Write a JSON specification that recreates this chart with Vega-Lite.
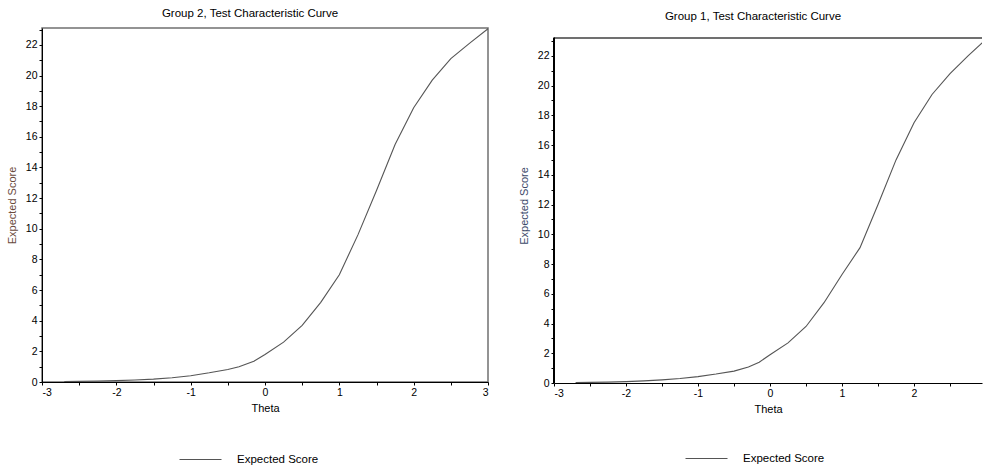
{
  "$schema": "https://vega.github.io/schema/vega-lite/v6.json",
  "padding": {"left": 5, "top": 6, "right": 0, "bottom": 0},
  "background": "white",
  "spacing": 28,
  "config": {
    "font": "Liberation Sans",
    "view": {"stroke": "#707070", "strokeWidth": 1.5},
    "axis": {"grid": false, "domainColor": "black", "tickColor": "black", "labelColor": "black", "labelFontSize": 10.5, "titleFontSize": 11, "titleFontWeight": "normal", "tickSize": 3, "labelPadding": 2},
    "title": {"fontSize": 11.5, "fontWeight": "normal", "color": "black"}
  },
  "resolve": {"scale": {"color": "independent"}, "legend": {"color": "independent"}},
  "hconcat": [
    {
      "width": 446,
      "height": 354,
      "title": {"text": "Group 2, Test Characteristic Curve", "offset": 9, "dx": -15},
      "data": {"values": [
        {"theta": -2.7, "score": 0.03}, {"theta": -2.5, "score": 0.04}, {"theta": -2.25, "score": 0.06}, {"theta": -2.0, "score": 0.09},
        {"theta": -1.75, "score": 0.13}, {"theta": -1.5, "score": 0.19}, {"theta": -1.25, "score": 0.28}, {"theta": -1.0, "score": 0.41},
        {"theta": -0.75, "score": 0.6}, {"theta": -0.5, "score": 0.82}, {"theta": -0.35, "score": 1.0}, {"theta": -0.15, "score": 1.35},
        {"theta": 0.0, "score": 1.8}, {"theta": 0.25, "score": 2.6}, {"theta": 0.5, "score": 3.7}, {"theta": 0.75, "score": 5.2},
        {"theta": 1.0, "score": 7.0}, {"theta": 1.25, "score": 9.6}, {"theta": 1.5, "score": 12.5}, {"theta": 1.75, "score": 15.5},
        {"theta": 2.0, "score": 17.9}, {"theta": 2.25, "score": 19.7}, {"theta": 2.5, "score": 21.1}, {"theta": 2.75, "score": 22.1},
        {"theta": 3.0, "score": 23.05}
      ]},
      "mark": {"type": "line", "strokeWidth": 1.1, "clip": true},
      "encoding": {
        "x": {"field": "theta", "type": "quantitative", "scale": {"domain": [-3, 3], "nice": false, "zero": false},
          "axis": {"title": "Theta", "titlePadding": 5, "values": [-3, -2.5, -2, -1.5, -1, -0.5, 0, 0.5, 1, 1.5, 2, 2.5, 3], "labelExpr": "datum.value % 1 === 0 ? toString(datum.value) : ''"}},
        "y": {"field": "score", "type": "quantitative", "scale": {"domain": [0, 23.1], "nice": false},
          "axis": {"title": "Expected Score", "titleColor": "#6a4a3c", "titlePadding": 8, "values": [0,1,2,3,4,5,6,7,8,9,10,11,12,13,14,15,16,17,18,19,20,21,22,23], "labelExpr": "datum.value % 2 === 0 ? toString(datum.value) : ''"}},
        "color": {"datum": "Expected Score", "scale": {"range": ["#555555"]},
          "legend": {"title": null, "orient": "none", "legendX": 151, "legendY": 424, "symbolType": "M-3,0H3", "symbolSize": 196, "symbolStrokeWidth": 1, "labelFontSize": 11.5, "labelOffset": 29, "padding": 0, "labelColor": "black"}}
      }
    },
    {
      "width": 428,
      "height": 355,
      "view": {"stroke": null},
      "title": {"text": "Group 1, Test Characteristic Curve", "offset": 6, "dx": -15},
      "data": {"values": [
        {"theta": -2.7, "score": 0.03}, {"theta": -2.5, "score": 0.04}, {"theta": -2.25, "score": 0.06}, {"theta": -2.0, "score": 0.09},
        {"theta": -1.75, "score": 0.14}, {"theta": -1.5, "score": 0.21}, {"theta": -1.25, "score": 0.3}, {"theta": -1.0, "score": 0.43},
        {"theta": -0.75, "score": 0.6}, {"theta": -0.5, "score": 0.8}, {"theta": -0.3, "score": 1.08}, {"theta": -0.15, "score": 1.4},
        {"theta": 0.0, "score": 1.9}, {"theta": 0.25, "score": 2.7}, {"theta": 0.5, "score": 3.8}, {"theta": 0.75, "score": 5.4},
        {"theta": 1.0, "score": 7.3}, {"theta": 1.25, "score": 9.1}, {"theta": 1.5, "score": 12.0}, {"theta": 1.75, "score": 15.0},
        {"theta": 2.0, "score": 17.5}, {"theta": 2.25, "score": 19.4}, {"theta": 2.5, "score": 20.8}, {"theta": 2.75, "score": 22.0},
        {"theta": 3.0, "score": 23.1}
      ]},
      "layer": [
        {
          "mark": {"type": "line", "strokeWidth": 1.1, "clip": true},
          "encoding": {
            "x": {"field": "theta", "type": "quantitative", "scale": {"domain": [-3, 2.944], "nice": false, "zero": false},
              "axis": {"title": "Theta", "titlePadding": 5, "values": [-3, -2.5, -2, -1.5, -1, -0.5, 0, 0.5, 1, 1.5, 2, 2.5], "labelExpr": "datum.value % 1 === 0 ? toString(datum.value) : ''"}},
            "y": {"field": "score", "type": "quantitative", "scale": {"domain": [0, 23.87], "nice": false},
              "axis": {"title": "Expected Score", "titleColor": "#3c4a6a", "titlePadding": 8, "domain": false, "values": [0,1,2,3,4,5,6,7,8,9,10,11,12,13,14,15,16,17,18,19,20,21,22,23], "labelExpr": "datum.value % 2 === 0 ? toString(datum.value) : ''"}},
            "color": {"datum": "Expected Score", "scale": {"range": ["#555555"]},
              "legend": {"title": null, "orient": "none", "legendX": 145, "legendY": 423, "symbolType": "M-3,0H3", "symbolSize": 196, "symbolStrokeWidth": 1, "labelFontSize": 11.5, "labelOffset": 29, "padding": 0, "labelColor": "black"}}
          }
        },
        {
          "mark": {"type": "rule", "color": "#707070", "strokeWidth": 1.5},
          "encoding": {
            "y": {"datum": 23.2, "type": "quantitative", "scale": {"domain": [0, 23.87], "nice": false},
              "axis": {"title": "Expected Score", "titleColor": "#3c4a6a", "titlePadding": 8, "domain": false, "values": [0,1,2,3,4,5,6,7,8,9,10,11,12,13,14,15,16,17,18,19,20,21,22,23], "labelExpr": "datum.value % 2 === 0 ? toString(datum.value) : ''"}},
            "x": {"datum": -3, "type": "quantitative", "scale": {"domain": [-3, 2.944], "nice": false, "zero": false},
              "axis": {"title": "Theta", "titlePadding": 5, "values": [-3, -2.5, -2, -1.5, -1, -0.5, 0, 0.5, 1, 1.5, 2, 2.5], "labelExpr": "datum.value % 1 === 0 ? toString(datum.value) : ''"}},
            "x2": {"datum": 2.944}
          }
        },
        {
          "mark": {"type": "rule", "color": "black", "strokeWidth": 1},
          "encoding": {
            "x": {"datum": -3, "type": "quantitative", "scale": {"domain": [-3, 2.944], "nice": false, "zero": false},
              "axis": {"title": "Theta", "titlePadding": 5, "values": [-3, -2.5, -2, -1.5, -1, -0.5, 0, 0.5, 1, 1.5, 2, 2.5], "labelExpr": "datum.value % 1 === 0 ? toString(datum.value) : ''"}},
            "y": {"datum": 0, "type": "quantitative", "scale": {"domain": [0, 23.87], "nice": false},
              "axis": {"title": "Expected Score", "titleColor": "#3c4a6a", "titlePadding": 8, "domain": false, "values": [0,1,2,3,4,5,6,7,8,9,10,11,12,13,14,15,16,17,18,19,20,21,22,23], "labelExpr": "datum.value % 2 === 0 ? toString(datum.value) : ''"}},
            "y2": {"datum": 23.2}
          }
        }
      ]
    }
  ]
}
